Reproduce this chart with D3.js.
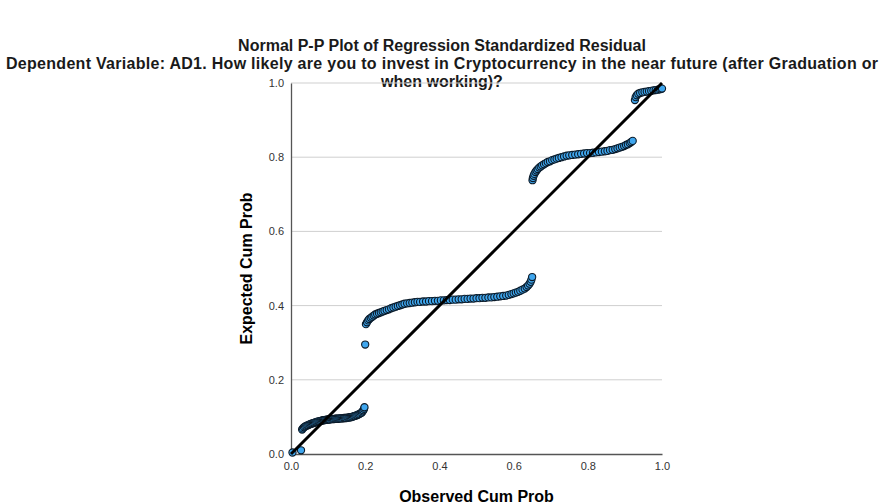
<!DOCTYPE html>
<html>
<head>
<meta charset="utf-8">
<script src="https://cdn.jsdelivr.net/npm/d3@7"></script>
<style>
  body { margin: 0; background: #fff; }
  svg text { font-family: "Liberation Sans", Arial, sans-serif; }
</style>
</head>
<body>
<div id="chart"></div>
<script>
// [observed cum prob, expected cum prob], one array per cluster
var originPoints = [[0.004, 0.004], [0.027, 0.010]];
var lowBand = [
  [0.030,0.066],[0.032,0.069],[0.035,0.072],[0.038,0.074],[0.041,0.076],[0.044,0.077],
  [0.047,0.078],[0.050,0.080],[0.053,0.081],[0.056,0.082],[0.059,0.083],[0.062,0.084],
  [0.065,0.085],[0.068,0.086],[0.071,0.087],[0.074,0.088],[0.077,0.088],[0.080,0.089],
  [0.083,0.090],[0.086,0.091],[0.089,0.091],[0.092,0.092],[0.095,0.092],[0.098,0.093],
  [0.101,0.093],[0.104,0.093],[0.107,0.094],[0.110,0.094],[0.113,0.094],[0.116,0.094],
  [0.119,0.095],[0.122,0.095],[0.125,0.095],[0.128,0.095],[0.131,0.096],[0.134,0.096],
  [0.137,0.096],[0.140,0.096],[0.143,0.097],[0.146,0.097],[0.149,0.097],[0.152,0.098],
  [0.155,0.098],[0.158,0.099],[0.161,0.099],[0.164,0.100],[0.167,0.101],[0.170,0.102],
  [0.173,0.103],[0.176,0.104],[0.179,0.105],[0.182,0.107],[0.185,0.108],[0.188,0.110],
  [0.191,0.112],[0.193,0.115],[0.195,0.118],[0.197,0.122],[0.198,0.126]
];
var midBand = [
  [0.200,0.295],[0.202,0.350],[0.205,0.355],[0.208,0.360],[0.211,0.364],[0.215,0.367],
  [0.219,0.370],[0.223,0.373],[0.227,0.376],[0.232,0.378],[0.237,0.380],[0.242,0.382],
  [0.247,0.384],[0.252,0.386],[0.258,0.388],[0.264,0.390],[0.270,0.393],[0.276,0.395],
  [0.282,0.397],[0.288,0.399],[0.294,0.401],[0.300,0.403],[0.306,0.405],[0.313,0.406],
  [0.320,0.407],[0.327,0.408],[0.334,0.409],[0.341,0.410],[0.348,0.410],[0.356,0.411],
  [0.364,0.411],[0.372,0.412],[0.380,0.412],[0.388,0.413],[0.396,0.413],[0.404,0.414],
  [0.412,0.414],[0.420,0.415],[0.428,0.415],[0.436,0.416],[0.444,0.416],[0.452,0.417],
  [0.460,0.417],[0.468,0.418],[0.476,0.418],[0.484,0.419],[0.492,0.419],[0.500,0.420],
  [0.508,0.420],[0.516,0.421],[0.524,0.421],[0.532,0.422],[0.540,0.422],[0.548,0.423],
  [0.556,0.424],[0.564,0.425],[0.572,0.426],[0.580,0.427],[0.587,0.429],[0.594,0.431],
  [0.600,0.433],[0.606,0.435],[0.612,0.437],[0.618,0.440],[0.624,0.443],[0.630,0.446],
  [0.635,0.450],[0.639,0.454],[0.643,0.459],[0.646,0.464],[0.648,0.470],[0.650,0.477]
];
var highBand = [
  [0.651,0.738],[0.652,0.744],[0.654,0.750],[0.656,0.755],[0.659,0.760],[0.662,0.764],
  [0.665,0.768],[0.669,0.772],[0.673,0.775],[0.677,0.778],[0.682,0.781],[0.687,0.784],
  [0.692,0.787],[0.698,0.789],[0.704,0.792],[0.710,0.794],[0.716,0.796],[0.722,0.798],
  [0.729,0.800],[0.736,0.802],[0.743,0.804],[0.750,0.805],[0.758,0.806],[0.766,0.807],
  [0.774,0.808],[0.782,0.809],[0.790,0.810],[0.798,0.811],[0.806,0.811],[0.814,0.812],
  [0.822,0.813],[0.830,0.814],[0.838,0.815],[0.846,0.816],[0.853,0.817],[0.860,0.819],
  [0.867,0.820],[0.874,0.822],[0.880,0.824],[0.886,0.826],[0.892,0.828],[0.898,0.830],
  [0.903,0.833],[0.908,0.835],[0.913,0.838],[0.917,0.841],[0.921,0.844]
];
var topBand = [
  [0.927,0.954],[0.929,0.962],[0.932,0.967],[0.936,0.971],[0.941,0.973],[0.947,0.975],
  [0.953,0.976],[0.959,0.977],[0.965,0.978],[0.971,0.979],[0.977,0.980],[0.983,0.981],
  [0.989,0.982],[0.994,0.983],[0.998,0.984],[1.000,0.985]
];
var tickValues = [0.0, 0.2, 0.4, 0.6, 0.8, 1.0];

var title = "Normal P-P Plot of Regression Standardized Residual",
    subtitle1 = "Dependent Variable: AD1. How likely are you to invest in Cryptocurrency in the near future (after Graduation or",
    subtitle2 = "when working)?";

var width = 885, height = 504,
    margins = {top: 83, right: 223, bottom: 50, left: 291},
    plotW = width - margins.left - margins.right,
    plotH = height - margins.top - margins.bottom;

var x = d3.scaleLinear().domain([0, 1]).range([0, plotW]);
var y = d3.scaleLinear().domain([0, 1]).range([plotH, 0]);

var svg = d3.select('#chart').append('svg')
  .attr('width', width)
  .attr('height', height);

var titles = [[title, 51], [subtitle1, 69], [subtitle2, 86.5]];
var titleText = svg.selectAll('.title').data(titles).enter().append('text')
  .attr('x', 442)
  .attr('y', function(d) { return d[1]; })
  .attr('text-anchor', 'middle')
  .style('font-size', '16px')
  .style('font-weight', 'bold')
  .attr('fill', '#1a1a1a')
  .text(function(d) { return d[0]; });
titleText.filter(function(d, i) { return i === 1; })
  .attr('textLength', 872)
  .attr('lengthAdjust', 'spacing');

var g = svg.append('g')
  .attr('transform', 'translate(' + margins.left + ',' + margins.top + ')');

// gridlines
g.selectAll('.grid').data(tickValues.slice(1)).enter().append('line')
  .attr('x1', 0).attr('x2', plotW)
  .attr('y1', function(d) { return y(d); })
  .attr('y2', function(d) { return y(d); })
  .attr('stroke', '#cfcfcf')
  .attr('stroke-width', 1);

var xAxis = g.append('g')
  .attr('transform', 'translate(0,' + plotH + ')')
  .call(d3.axisBottom(x).tickValues(tickValues).tickFormat(d3.format('.1f')).tickSize(0).tickPadding(8));
var yAxis = g.append('g')
  .call(d3.axisLeft(y).tickValues(tickValues).tickFormat(d3.format('.1f')).tickSize(0).tickPadding(7));

[xAxis, yAxis].forEach(function(a) {
  a.select('.domain').attr('stroke', '#555').attr('stroke-width', 1.3);
  a.selectAll('text').style('font-size', '11px').attr('fill', '#333')
    .style('font-family', '"Liberation Sans", Arial, sans-serif');
});

var pts = [].concat(originPoints, lowBand, midBand, highBand, topBand);

g.selectAll('.pt').data(pts).enter().append('circle')
  .attr('cx', function(d) { return x(d[0]); })
  .attr('cy', function(d) { return y(d[1]); })
  .attr('r', 3.6)
  .attr('fill', '#3fa6ee')
  .attr('stroke', '#0b1a28')
  .attr('stroke-width', 1.1);

g.append('line')
  .attr('x1', x(0)).attr('y1', y(0))
  .attr('x2', x(1)).attr('y2', y(1))
  .attr('stroke', '#000')
  .attr('stroke-width', 3);

svg.append('text')
  .attr('x', margins.left + plotW / 2).attr('y', 502)
  .attr('text-anchor', 'middle')
  .style('font-size', '16px').style('font-weight', 'bold')
  .text('Observed Cum Prob');
svg.append('text')
  .attr('transform', 'translate(252,' + (margins.top + plotH / 2) + ') rotate(-90)')
  .attr('text-anchor', 'middle')
  .style('font-size', '16px').style('font-weight', 'bold')
  .text('Expected Cum Prob');
</script>
</body>
</html>
